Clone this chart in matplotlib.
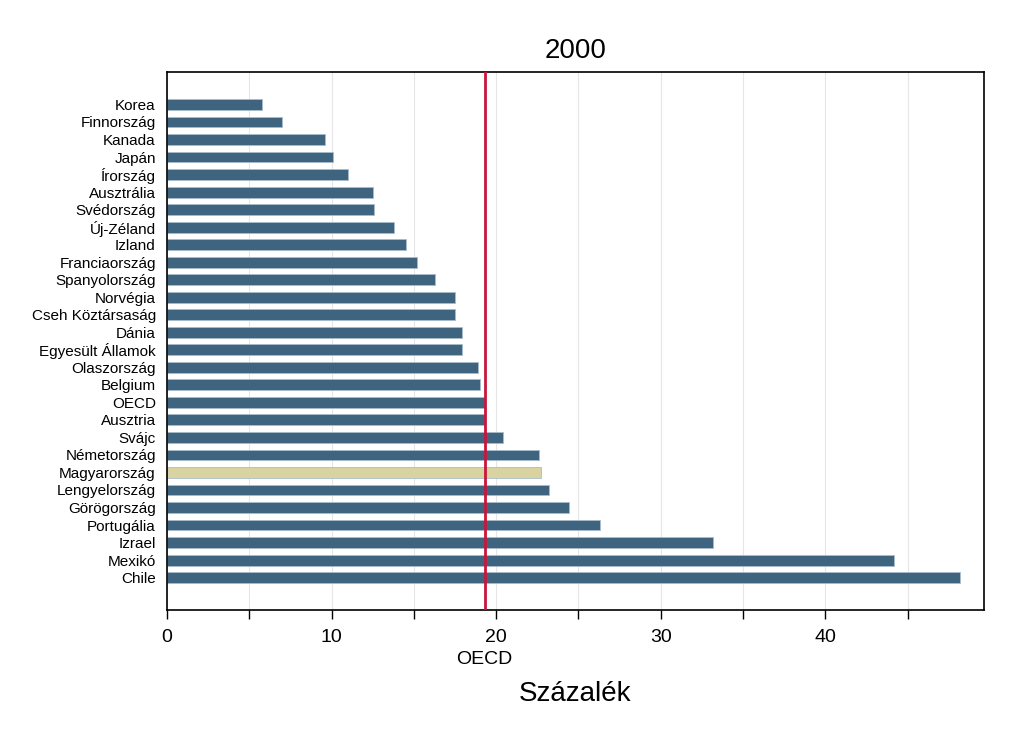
import matplotlib
matplotlib.use("Agg")
import matplotlib.pyplot as plt
import numpy as np

plt.rcParams['font.family'] = ['Liberation Sans', 'DejaVu Sans']

countries = ["Korea", "Finnország", "Kanada", "Japán", "Írország", "Ausztrália",
             "Svédország", "Új-Zéland", "Izland", "Franciaország", "Spanyolország",
             "Norvégia", "Cseh Köztársaság", "Dánia", "Egyesült Államok",
             "Olaszország", "Belgium", "OECD", "Ausztria", "Svájc", "Németország",
             "Magyarország", "Lengyelország", "Görögország", "Portugália",
             "Izrael", "Mexikó", "Chile"]
values = [5.8, 7.0, 9.6, 10.1, 11.0, 12.5, 12.6, 13.8, 14.5, 15.2, 16.3,
          17.5, 17.5, 17.9, 17.9, 18.9, 19.0, 19.3, 19.3, 20.4, 22.6, 22.7,
          23.2, 24.4, 26.3, 33.2, 44.2, 48.2]
oecd_value = 19.3
highlight = "Magyarország"

blue = "#3f6480"
sand = "#d8d3a0"
colors = [sand if c == highlight else blue for c in countries]

fig = plt.figure(figsize=(10.2, 7.55), dpi=100)
ax = fig.add_axes([0.1637, 0.192, 0.801, 0.7126])

y = np.arange(len(countries))
ax.barh(y, values, height=0.62, color=colors, edgecolor="#a9bccb",
        linewidth=0.6, zorder=2)
ax.axvline(oecd_value, color="#c8163c", lw=2, zorder=3)

ax.set_xlim(0, max(values) * 1.03)
ax.set_ylim(len(countries) - 1 + 1.85, -1.85)
ax.set_yticks(y)
ax.set_yticklabels(countries, fontsize=11)
ax.tick_params(axis='y', length=0, pad=8)

ax.set_xticks(np.arange(0, 50, 10))
ax.set_xticks(np.arange(5, 50, 10), minor=True)
ax.tick_params(axis='x', which='both', length=6.5, width=1, labelsize=14, pad=7)
ax.grid(axis='x', which='both', color="#e6e6e6", lw=0.8, zorder=0)

for s in ax.spines.values():
    s.set_linewidth(1.2)

ax.set_title("2000", fontsize=20, pad=10)
ax.text(oecd_value, -0.077, "OECD", transform=ax.get_xaxis_transform(),
        ha='center', va='top', fontsize=14)
ax.set_xlabel("Százalék", fontsize=20)
ax.xaxis.set_label_coords(0.5, -0.131)

fig.savefig("out.png", dpi=100)
